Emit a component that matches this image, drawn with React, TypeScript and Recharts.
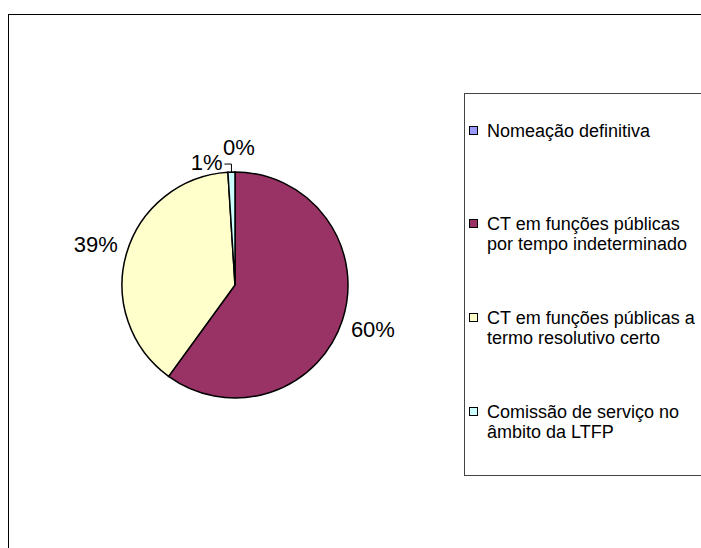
import { Legend, Pie, PieChart } from "recharts";

const categories = [
  "Nomeação definitiva",
  "CT em funções públicas por tempo indeterminado",
  "CT em funções públicas a termo resolutivo certo",
  "Comissão de serviço no âmbito da LTFP"
];
const legendLines = [
  ["Nomeação definitiva"],
  ["CT em funções públicas", "por tempo indeterminado"],
  ["CT em funções públicas a", "termo resolutivo certo"],
  ["Comissão de serviço no", "âmbito da LTFP"]
];
const shares = [0, 60, 39, 1];
const colors = ["#9999FF", "#993366", "#FFFFCC", "#CCFFFF"];

const data = categories.map((name, i) => ({ name, value: shares[i], fill: colors[i] }));

const RADIAN = Math.PI / 180;
const FONT = "'Liberation Sans', Arial, sans-serif";

function renderLabel(props: any) {
  const { cx, cy, midAngle, outerRadius, index, value } = props;
  const text = `${Math.round(value)}%`;
  const cos = Math.cos(-midAngle * RADIAN);
  const sin = Math.sin(-midAngle * RADIAN);
  const common = { fill: "#000", fontSize: 22, fontFamily: FONT, dominantBaseline: "central" as const };

  if (index === 0) {
    // zero slice sits on top, label pushed up out of the way
    return (
      <text key="l0" x={cx + 4} y={cy - outerRadius - 25} textAnchor="middle" {...common}>
        {text}
      </text>
    );
  }
  if (index === 3) {
    const sx = cx + outerRadius * cos;
    const sy = cy + outerRadius * sin;
    return (
      <g key="l3">
        <polyline
          points={`${sx},${sy} ${sx},${sy - 8} ${sx - 7},${sy - 8}`}
          fill="none"
          stroke="#000"
          strokeWidth={1}
        />
        <text x={sx - 9} y={sy - 10} textAnchor="end" {...common}>
          {text}
        </text>
      </g>
    );
  }
  const r = outerRadius + 32;
  return (
    <text key={`l${index}`} x={cx + r * cos} y={cy + r * sin} textAnchor="middle" {...common}>
      {text}
    </text>
  );
}

const legendTops = [121, 214, 308, 402];

function LegendBox() {
  return (
    <div
      style={{
        position: "absolute",
        left: 464,
        top: 93,
        width: 260,
        height: 381,
        border: "1px solid #444",
        background: "#fff",
        fontFamily: FONT,
        fontSize: 18,
        lineHeight: "20px",
        color: "#000"
      }}
    >
      {legendLines.map((lines, i) => (
        <div key={i} style={{ position: "absolute", left: 4, top: legendTops[i] - 94 }}>
          <span
            style={{
              position: "absolute",
              left: 0,
              top: 5,
              width: 7,
              height: 7,
              border: "1px solid #000",
              background: colors[i]
            }}
          />
          <div style={{ marginLeft: 18, whiteSpace: "nowrap" }}>
            {lines.map((l, j) => (
              <div key={j}>{l}</div>
            ))}
          </div>
        </div>
      ))}
    </div>
  );
}

export default function App() {
  return (
    <div style={{ position: "relative", width: 701, height: 548, overflow: "hidden", background: "#fff" }}>
      <style>{`body{margin:0;overflow:hidden}`}</style>
      <div
        style={{
          position: "absolute",
          left: 8,
          top: 14,
          width: 720,
          height: 560,
          border: "1px solid #000"
        }}
      />
      <PieChart
        width={701}
        height={548}
        margin={{ top: 0, right: 0, bottom: 0, left: 0 }}
        style={{ position: "absolute", left: 0, top: 0 }}
      >
        <Pie
          data={data}
          dataKey="value"
          nameKey="name"
          cx={235}
          cy={285}
          outerRadius={113}
          startAngle={90}
          endAngle={-270}
          stroke="#000"
          strokeWidth={1.5}
          label={renderLabel}
          labelLine={false}
          isAnimationActive={false}
        />
        <Legend content={() => null} />
      </PieChart>
      <LegendBox />
    </div>
  );
}
